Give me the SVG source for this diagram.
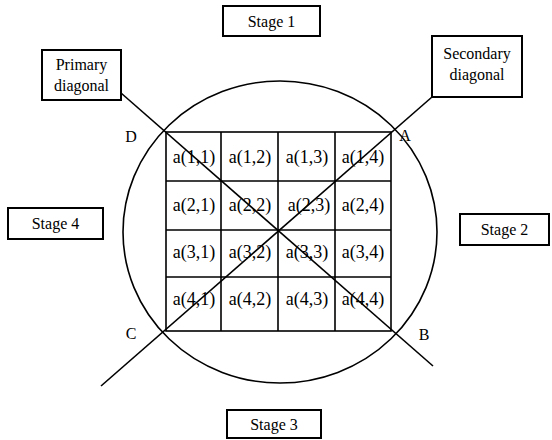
<svg xmlns="http://www.w3.org/2000/svg" width="552" height="440" viewBox="0 0 552 440">
<style>
.box{fill:#fff;stroke:#000;stroke-width:2}
.ln{fill:none;stroke:#000;stroke-width:1.6}
text{fill:#000;text-anchor:middle}
.t{font-size:16px}
.c{font-size:18px}
</style>
<rect width="552" height="440" fill="#fff"/>
<g font-family="Liberation Serif, Tinos, Times New Roman, Noto Serif, DejaVu Serif, serif">
<g id="circle"><ellipse class="ln" cx="280" cy="232" rx="157" ry="151"/></g>
<g id="matrix">
<rect class="ln" x="166" y="132" width="225" height="199" stroke-width="2"/>
<path class="ln" stroke-width="2" d="M221,132V331M278,132V331M335,132V331M166,181H391M166,230H391M166,277H391"/>
<text class="c" x="194" y="163">a(1,1)</text><text class="c" x="250" y="163">a(1,2)</text><text class="c" x="307" y="163">a(1,3)</text><text class="c" x="363" y="163">a(1,4)</text>
<text class="c" x="194" y="211">a(2,1)</text><text class="c" x="250" y="211">a(2,2)</text><text class="c" x="309" y="211">a(2,3)</text><text class="c" x="363" y="211">a(2,4)</text>
<text class="c" x="194" y="258">a(3,1)</text><text class="c" x="250" y="258">a(3,2)</text><text class="c" x="307" y="258">a(3,3)</text><text class="c" x="363" y="258">a(3,4)</text>
<text class="c" x="194" y="305">a(4,1)</text><text class="c" x="250" y="305">a(4,2)</text><text class="c" x="307" y="305">a(4,3)</text><text class="c" x="363" y="305">a(4,4)</text>
</g>
<g id="connectors">
<line class="ln" x1="121" y1="93" x2="433" y2="366"/>
<line class="ln" x1="432" y1="97" x2="101" y2="386"/>
</g>
<g id="labels">
<text class="t" x="131" y="142">D</text>
<text class="t" x="405" y="141">A</text>
<text class="t" x="131" y="339">C</text>
<text class="t" x="424" y="340">B</text>
</g>
<g id="stage1"><rect class="box" x="223" y="6" width="97" height="30"/><text class="t" x="271.5" y="27">Stage 1</text></g>
<g id="stage2"><rect class="box" x="460" y="214" width="89" height="31"/><text class="t" x="504.5" y="235">Stage 2</text></g>
<g id="stage3"><rect class="box" x="227" y="410" width="94" height="28"/><text class="t" x="274" y="430">Stage 3</text></g>
<g id="stage4"><rect class="box" x="8" y="208" width="95" height="31"/><text class="t" x="55.5" y="229">Stage 4</text></g>
<g id="primary"><rect class="box" x="42" y="50" width="79" height="50"/><text class="t" x="81.5" y="70">Primary</text><text class="t" x="81.5" y="91">diagonal</text></g>
<g id="secondary"><rect class="box" x="432" y="36" width="90" height="61"/><text class="t" x="477" y="59">Secondary</text><text class="t" x="477" y="80">diagonal</text></g>
</g>
</svg>
